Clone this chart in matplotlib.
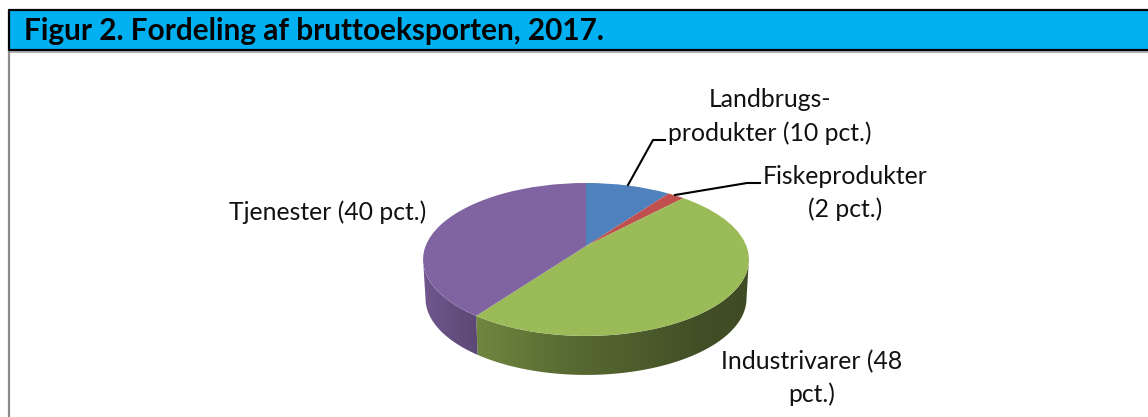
import numpy as np
import matplotlib
matplotlib.use('Agg')
import matplotlib.pyplot as plt
from matplotlib.patches import Polygon, Rectangle
from matplotlib.transforms import Transform

title = 'Figur 2. Fordeling af bruttoeksporten, 2017.'
names = ['Landbrugs-\nprodukter (10 pct.)', 'Fiskeprodukter\n(2 pct.)', 'Industrivarer (48\npct.)', 'Tjenester (40 pct.)']
values = [10, 2, 48, 40]
colors = ['#4f81bd', '#c0504d', '#9bbb59', '#8064a2']

plt.rcParams['font.family'] = ['Lato', 'DejaVu Sans']

W, H = 1148, 417
CX, CY = 586, 246
K = 0.176


def project(u, v, cy=CY, a=74.1, b=160.4):
    # tilted disc: the apex sits above the middle of the ellipse
    return CX + b * u / (1 + K * v), cy - a * v / (1 + K * v)


class Tilt(Transform):
    input_dims = 2
    output_dims = 2

    def transform_non_affine(self, xy):
        xy = np.asarray(xy, dtype=float)
        x, y = project(xy[:, 0], xy[:, 1])
        return np.column_stack([x, y])


fig = plt.figure(figsize=(W / 100, H / 100), dpi=100)
ax = fig.add_axes([0, 0, 1, 1])

wedges, _ = ax.pie(values, colors=colors, startangle=90, counterclock=False,
                   radius=1, wedgeprops=dict(linewidth=0))
tilt = Tilt() + ax.transData
for w in wedges:
    w.set_transform(tilt)
    w.set_zorder(3)

# rim, darker towards the right; only the front part of the disc shows one
shade_x = [423, 476, 560, 650, 700, 749]
shade_f = [0.87, 0.72, 0.58, 0.48, 0.42, 0.40]
grad_x = np.arange(420, 752)
grad = np.interp(grad_x, shade_x, shade_f)[None, :, None]
ends = np.cumsum(values) / np.sum(values) * 2 * np.pi
starts = np.r_[0, ends[:-1]]
front = np.radians([100, 260])
for s, e, c in zip(starts, ends, colors):
    s, e = max(s, front[0]), min(e, front[1])
    if s >= e:
        continue
    angles = np.linspace(s, e, 200)
    tx, ty = project(np.sin(angles), np.cos(angles))
    bx, by = project(np.sin(angles), np.cos(angles), cy=285, b=158)
    rim = Polygon(np.column_stack([np.r_[tx, bx[::-1]], np.r_[ty, by[::-1]]]),
                  closed=True, transform=ax.transData, fc='none', ec='none')
    ax.add_patch(rim)
    img = grad * np.array(matplotlib.colors.to_rgb(c))[None, None, :]
    im = ax.imshow(img, extent=(420, 752, 400, 170), aspect='auto', zorder=2,
                   interpolation='bilinear')
    im.set_clip_path(rim)

ax.set_aspect('auto')
ax.set_xlim(0, W)
ax.set_ylim(H, 0)
ax.axis('off')

# header band
ax.add_patch(Rectangle((9, 10), W, 40, fc='#00b0f0', ec='none', zorder=1))
ax.plot([W, 9, 9, W], [10, 10, 50, 50], color='black', lw=1.6, zorder=4)
ax.plot([9, W], [51.5, 51.5], color='#a6a6a6', lw=1.2, zorder=1)
ax.plot([9, 9], [51, H], color='#8c8c8c', lw=1.6, zorder=1)
ax.text(24, 31, title, fontsize=21.4, fontweight='bold', color='black', va='center', ha='left', zorder=5)

# labels
ax.text(770, 116.5, names[0], fontsize=17.8, ha='center', va='center', linespacing=1.5, color='#111111')
ax.text(845, 193, names[1], fontsize=17.8, ha='center', va='center', linespacing=1.5, color='#111111')
ax.text(812, 378, names[2], fontsize=17.8, ha='center', va='center', linespacing=1.5, color='#111111')
ax.text(328, 212, names[3], fontsize=17.8, ha='center', va='center', color='#111111')

# leader lines
ax.plot([628, 653, 665], [185, 140, 140], color='black', lw=1.5, zorder=4)
ax.plot([675, 747, 760], [195, 183, 183], color='black', lw=1.5, zorder=4)

fig.savefig('out.png', dpi=100)
